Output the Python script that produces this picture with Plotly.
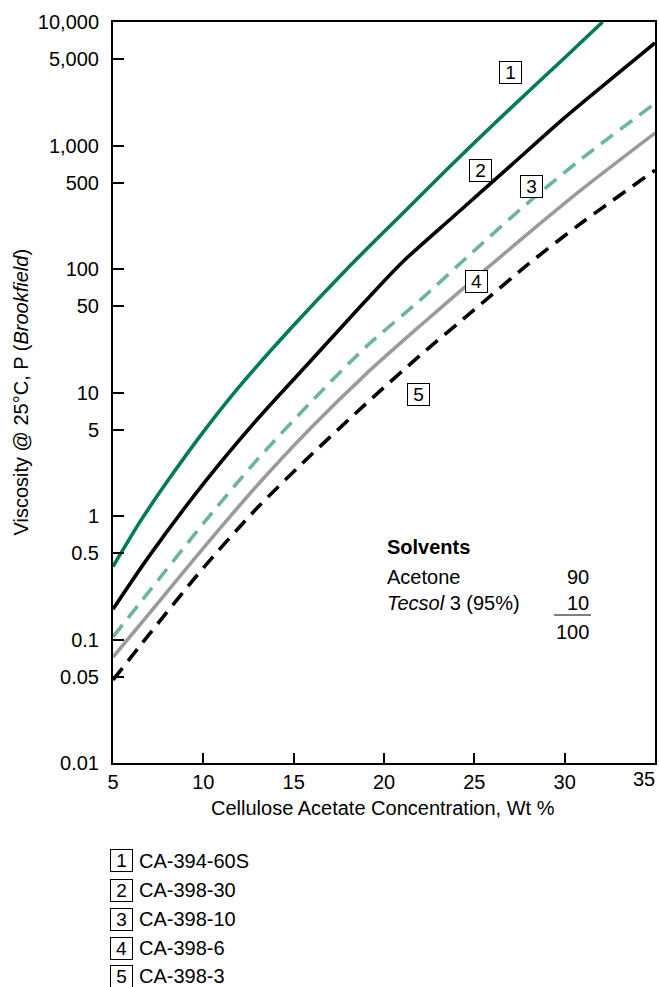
import plotly.graph_objects as go

# ---- data ----
conc_1 = [5, 6.5, 8, 10, 12, 15, 18, 21, 24, 27, 30, 32.1]
visc_1 = [0.39, 0.90, 1.9, 4.8, 11.2, 35, 102, 279, 760, 2000, 5130, 10000]
conc_2 = [5, 7, 10, 13, 16, 19, 21, 24, 27, 30, 33, 35]
visc_2 = [0.176, 0.473, 1.82, 6.1, 18.4, 55.6, 113, 279, 684, 1680, 3890, 6760]
conc_345 = [5, 7, 10, 13, 16, 19, 22, 25, 28, 31, 35]
visc_3 = [0.105, 0.245, 0.87, 2.88, 8.5, 23.4, 56, 141, 347, 794, 2190]
visc_4 = [0.072, 0.162, 0.55, 1.78, 5.25, 14.1, 34.7, 83, 195, 447, 1260]
visc_5 = [0.047, 0.11, 0.38, 1.17, 3.16, 8.1, 20, 46.8, 110, 240, 630]

series_ids = ["1", "2", "3", "4", "5"]
series_names = ["CA-394-60S", "CA-398-30", "CA-398-10", "CA-398-6", "CA-398-3"]

y_tickvals = [0.01, 0.05, 0.1, 0.5, 1, 5, 10, 50, 100, 500, 1000, 5000, 10000]
y_ticktext = ["0.01", "0.05", "0.1", "0.5", "1", "5", "10", "50", "100", "500", "1,000", "5,000", "10,000"]
x_tickvals = [5, 10, 15, 20, 25, 30, 35]
x_ticktext = ["5", "10", "15", "20", "25", "30", ""]
x_last_label = "35"

solvent_names = ["Acetone", "<i>Tecsol</i> 3 (95%)"]
solvent_parts = ["90", "10"]
solvent_total = "100"

FONT = "Liberation Sans, Arial, Helvetica, sans-serif"

fig = go.Figure()
styles = [
    dict(color="#007A5A", width=3.6),
    dict(color="#000000", width=3.6),
    dict(color="#6BB5A0", width=3.6, dash="15px,9px"),
    dict(color="#9B9B9B", width=3.6),
    dict(color="#000000", width=3.6, dash="15px,9px"),
]
data = [(conc_1, visc_1), (conc_2, visc_2), (conc_345, visc_3), (conc_345, visc_4), (conc_345, visc_5)]
for (xs, ys), st, nm in zip(data, styles, series_names):
    fig.add_trace(go.Scatter(x=xs, y=ys, mode="lines", name=nm,
                             line=dict(shape="spline", smoothing=0.8, **st),
                             showlegend=False, hoverinfo="skip"))

# plot area in pixels: x 113..655, y 22..763
L, T, R, B = 113, 22, 655, 763
W, H = R - L, B - T


def px(xp):
    return (xp - L) / W


def py(yp):
    return (B - yp) / H


ann = []
box_font = dict(family=FONT, size=19, color="black")
# curve labels
label_pos = [(510, 73), (480, 170), (531.7, 186.7), (476.7, 281.7), (418.3, 394.3)]
for sid, (xp, yp) in zip(series_ids, label_pos):
    ann.append(dict(x=px(xp), y=py(yp), xref="paper", yref="paper", text=sid,
                    showarrow=False, font=box_font, bordercolor="black", borderwidth=1,
                    borderpad=1, bgcolor="white", width=19, height=19,
                    xanchor="center", yanchor="middle"))

# bottom legend
row_y = [861, 890, 919, 948, 976]
for sid, nm, yp in zip(series_ids, series_names, row_y):
    ann.append(dict(x=px(121), y=py(yp), xref="paper", yref="paper", text=sid,
                    showarrow=False, font=box_font, bordercolor="black", borderwidth=1,
                    borderpad=1, bgcolor="white", width=19, height=19,
                    xanchor="center", yanchor="middle"))
    ann.append(dict(x=px(137), y=py(yp), xref="paper", yref="paper", text=nm,
                    showarrow=False, font=dict(family=FONT, size=20, color="black"),
                    xanchor="left", yanchor="middle"))

# solvents block
txt_font = dict(family=FONT, size=20, color="black")
ann.append(dict(x=px(385), y=py(547), xref="paper", yref="paper", text="<b>Solvents</b>",
                showarrow=False, font=txt_font, xanchor="left", yanchor="middle"))
for nm, val, yp in zip(solvent_names, solvent_parts, [577, 603]):
    ann.append(dict(x=px(385), y=py(yp), xref="paper", yref="paper", text=nm,
                    showarrow=False, font=txt_font, xanchor="left", yanchor="middle"))
    ann.append(dict(x=px(591), y=py(yp), xref="paper", yref="paper", text=val,
                    showarrow=False, font=txt_font, xanchor="right", yanchor="middle"))
ann.append(dict(x=px(591), y=py(632), xref="paper", yref="paper", text=solvent_total,
                showarrow=False, font=txt_font, xanchor="right", yanchor="middle"))

# last x tick label, pulled inside the page edge as in the reference
ann.append(dict(x=px(657), y=py(779), xref="paper", yref="paper", text=x_last_label,
                showarrow=False, font=txt_font, xanchor="right", yanchor="middle"))

# axis titles
ann.append(dict(x=px(20), y=0.5, xref="paper", yref="paper",
                text="Viscosity @ 25°C, P (<i>Brookfield</i>)", textangle=-90,
                showarrow=False, font=txt_font, xanchor="center", yanchor="middle"))
ann.append(dict(x=px(383), y=py(808), xref="paper", yref="paper",
                text="Cellulose Acetate Concentration, Wt %",
                showarrow=False, font=txt_font, xanchor="center", yanchor="middle"))

shapes = [dict(type="line", xref="paper", yref="paper", x0=px(554), x1=px(591),
               y0=py(615), y1=py(615), line=dict(color="black", width=1))]

fig.update_layout(
    width=659, height=987,
    margin=dict(l=L, r=659 - R, t=T, b=987 - B, autoexpand=False),
    paper_bgcolor="white", plot_bgcolor="white",
    font=dict(family=FONT, size=20, color="black"),
    annotations=ann, shapes=shapes, showlegend=False,
)
fig.update_xaxes(range=[5, 35], tickvals=x_tickvals, ticktext=x_ticktext,
                 ticks="inside", ticklen=10, automargin=False,
                 tickwidth=1.5, tickcolor="black", showline=True, linewidth=2,
                 linecolor="black", mirror=True, showgrid=False, zeroline=False,
                 ticklabelstandoff=0, tickfont=dict(family=FONT, size=20, color="black"))
fig.update_yaxes(type="log", range=[-2, 4], tickvals=y_tickvals, ticktext=y_ticktext,
                 ticks="inside", ticklen=11, tickwidth=1.5, tickcolor="black",
                 automargin=False,
                 showline=True, linewidth=2, linecolor="black", mirror=True,
                 showgrid=False, zeroline=False, ticklabelstandoff=8,
                 tickfont=dict(family=FONT, size=20, color="black"))

fig.write_html("out.html", config={"displayModeBar": False},
               post_script="document.body.style.margin='0px';document.body.style.overflow='hidden';")
